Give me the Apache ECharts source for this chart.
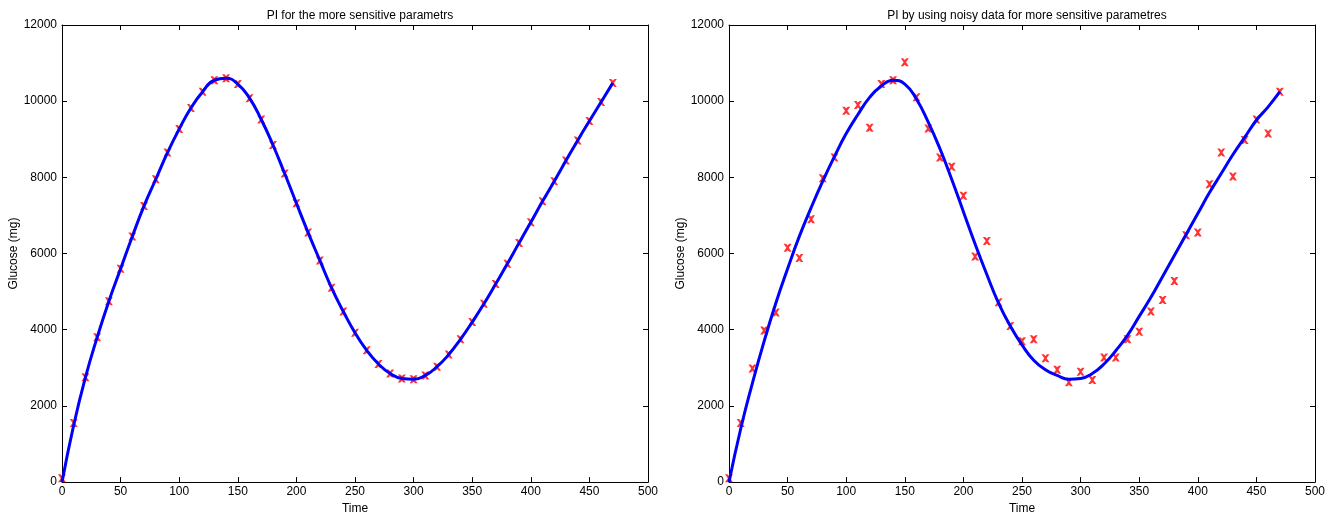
<!DOCTYPE html>
<html><head><meta charset="utf-8">
<script src="https://cdn.jsdelivr.net/npm/echarts@6/dist/echarts.min.js"></script>
<style>html,body{margin:0;background:#fff}#c{width:1333px;height:520px}</style>
</head><body><div id="c"></div>
<script>
var times = [];
for (var t = 0; t <= 470; t += 10) times.push(t);
// left panel: fitted points and model curve
var leftPts = [100,1550,2750,3800,4750,5600,6450,7250,7950,8650,9270,9820,10250,10550,10600,10450,10080,9520,8850,8100,7320,6550,5820,5100,4480,3920,3460,3100,2850,2720,2700,2800,3030,3350,3750,4200,4680,5200,5730,6280,6820,7370,7900,8440,8970,9480,9980,10480];
var leftCurve = [0,1500,2750,3800,4750,5600,6450,7250,7950,8650,9270,9820,10250,10550,10600,10450,10080,9520,8850,8100,7320,6550,5820,5100,4480,3920,3460,3100,2850,2720,2700,2800,3030,3350,3750,4200,4680,5200,5730,6280,6820,7370,7900,8440,8970,9480,9980,10480];
// right panel: noisy points and fitted curve
var rightPts = [100,1550,2980,3980,4450,6150,5880,6900,7980,8520,9750,9900,9300,10450,10550,11020,10100,9280,8520,8280,7520,5920,6330,4720,4100,3700,3750,3250,2950,2620,2900,2680,3270,3270,3750,3950,4480,4780,5280,6480,6550,7820,8650,8020,8980,9520,9150,10250];
var rightCurve = [0,1400,2600,3700,4700,5600,6450,7200,7900,8550,9150,9650,10100,10400,10550,10450,10050,9450,8750,7950,7100,6250,5450,4700,4100,3600,3200,2950,2800,2700,2720,2850,3100,3450,3850,4350,4850,5400,5950,6500,7050,7600,8100,8600,9050,9500,9850,10250];
var titles = ['PI for the more sensitive parametrs', 'PI by using noisy data for more sensitive parametres'];

function pairs(arr) { return times.map(function (x, i) { return [x, arr[i]]; }); }
var cross = 'path://M0,0L3,0L5,2L7,0L10,0L6.5,5L10,10L7,10L5,8L3,10L0,10L3.5,5Z';
var font = 'Liberation Sans';
var lbl = {color: '#000', fontSize: 12, fontFamily: font};

function xAx(i, pos) {
  return {gridIndex: i, type: 'value', min: 0, max: 500, interval: 50, position: pos,
    name: pos === 'bottom' ? 'Time' : '', nameLocation: 'middle', nameGap: 17, nameTextStyle: lbl,
    axisLine: {onZero: false, lineStyle: {color: '#000'}}, axisTick: {inside: true, length: 5, lineStyle: {color: '#000'}},
    axisLabel: Object.assign({show: pos === 'bottom', margin: 4}, lbl), splitLine: {show: false}};
}
function yAx(i, pos) {
  return {gridIndex: i, type: 'value', min: 0, max: 12000, interval: 2000, position: pos,
    name: pos === 'left' ? 'Glucose (mg)' : '', nameLocation: 'middle', nameGap: 40, nameTextStyle: lbl,
    axisLine: {onZero: false, lineStyle: {color: '#000'}}, axisTick: {inside: true, length: 5, lineStyle: {color: '#000'}},
    axisLabel: Object.assign({show: pos === 'left', margin: 5, formatter: function (v) { return String(v); }}, lbl),
    splitLine: {show: false}};
}

var chart = echarts.init(document.getElementById('c'));
chart.setOption({
  animation: false,
  title: [
    {text: titles[0], left: 355, top: 5, textAlign: 'center', textStyle: {fontSize: 12, fontWeight: 'normal', color: '#000', fontFamily: font}},
    {text: titles[1], left: 1022, top: 5, textAlign: 'center', textStyle: {fontSize: 12, fontWeight: 'normal', color: '#000', fontFamily: font}}
  ],
  grid: [
    {left: 62, right: 685, top: 25, bottom: 35},
    {left: 729, right: 18, top: 25, bottom: 35}
  ],
  xAxis: [xAx(0, 'bottom'), xAx(1, 'bottom'), xAx(0, 'top'), xAx(1, 'top')],
  yAxis: [yAx(0, 'left'), yAx(1, 'left'), yAx(0, 'right'), yAx(1, 'right')],
  series: [
    {type: 'line', xAxisIndex: 0, yAxisIndex: 0, data: pairs(leftCurve), smooth: true, showSymbol: false, lineStyle: {color: '#0000ff', width: 3}},
    {type: 'scatter', xAxisIndex: 0, yAxisIndex: 0, data: pairs(leftPts), symbol: cross, symbolSize: 8, itemStyle: {color: '#ff0000'}},
    {type: 'line', xAxisIndex: 1, yAxisIndex: 1, data: pairs(rightCurve), smooth: true, showSymbol: false, lineStyle: {color: '#0000ff', width: 3}},
    {type: 'scatter', xAxisIndex: 1, yAxisIndex: 1, data: pairs(rightPts), symbol: cross, symbolSize: 8, itemStyle: {color: '#ff0000'}}
  ]
});
</script></body></html>
